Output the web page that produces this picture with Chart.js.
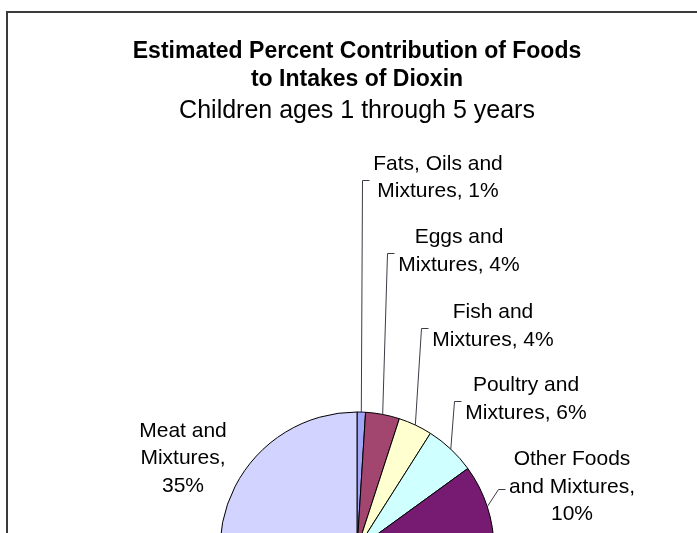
<!DOCTYPE html>
<html>
<head>
<meta charset="utf-8">
<script src="https://cdn.jsdelivr.net/npm/chart.js@4"></script>
<style>
  html, body { margin: 0; padding: 0; background: #fff; overflow: hidden; width: 697px; height: 533px; }
  #frame { position: absolute; left: 6px; top: 11px; width: 740px; height: 900px;
           border-top: 2px solid #3a3a3a; border-left: 2px solid #3a3a3a; }
  #chart { position: absolute; left: 0; top: 0; }
</style>
</head>
<body>
<div id="frame"><canvas id="chart" width="698" height="760"></canvas></div>
<script>
// slices, clockwise from 12 o'clock (the two lower ones are below the visible area)
const categories = ['Fats, Oils and Mixtures', 'Eggs and Mixtures', 'Fish and Mixtures',
  'Poultry and Mixtures', 'Other Foods and Mixtures', 'Milk and Mixtures', 'Vegetables and Mixtures',
  'Meat and Mixtures'];
const percents = [1, 4, 4, 6, 10, 28, 12, 35];
const colors = ['#a2a6f7', '#a2466f', '#ffffcf', '#cfffff', '#761a72', '#ff8080', '#0066cc', '#d3d3ff'];

// label wrapping, '#' is replaced by the percent
const labelWrap = [
  ['Fats, Oils and', 'Mixtures, #'],
  ['Eggs and', 'Mixtures, #'],
  ['Fish and', 'Mixtures, #'],
  ['Poultry and', 'Mixtures, #'],
  ['Other Foods', 'and Mixtures,', '#'],
  null,
  null,
  ['Meat and', 'Mixtures,', '#']
];

const titleLines = ['Estimated Percent Contribution of Foods', 'to Intakes of Dioxin'];
const subtitleText = 'Children ages 1 through 5 years';

// layout (page pixels) for the data labels: centre of the label box
const labelPos = [
  { x: 438, y: 177.5, leader: true },
  { x: 459, y: 251, leader: true },
  { x: 493, y: 326, leader: true },
  { x: 526, y: 399, leader: true },
  { x: 572, y: 487, leader: true },
  null,
  null,
  { x: 183, y: 458.5, leader: false }
];

const FONT = '"Liberation Sans", Arial, sans-serif';
const OFFX = 8, OFFY = 13;   // canvas origin on the page
const LABEL_SIZE = 21, LABEL_LH = 27.5;

function labelText(i) {
  const w = labelWrap[i];
  if (!w) return null;
  return w.map(t => t.replace('#', percents[i] + '%'));
}

const dataLabels = {
  id: 'dataLabels',
  afterDraw(chart) {
    const { ctx } = chart;
    const arcs = chart.getDatasetMeta(0).data;
    ctx.save();
    ctx.font = `${LABEL_SIZE}px ${FONT}`;
    ctx.fillStyle = '#000';
    ctx.textAlign = 'center';
    ctx.textBaseline = 'middle';
    ctx.strokeStyle = '#3c3c46';
    ctx.lineWidth = 1;
    arcs.forEach((arc, i) => {
      const lines = labelText(i);
      const pos = labelPos[i];
      if (!lines || !pos) return;
      const cx = pos.x - OFFX, cy = pos.y - OFFY;
      const n = lines.length;
      lines.forEach((t, k) => ctx.fillText(t, cx, cy + (k - (n - 1) / 2) * LABEL_LH));
      if (!pos.leader) return;
      const w = Math.max(...lines.map(t => ctx.measureText(t).width));
      const left = cx - w / 2;
      const p = arc.getProps(['x', 'y', 'startAngle', 'endAngle', 'outerRadius'], true);
      const mid = (p.startAngle + p.endAngle) / 2;
      const px = p.x + Math.cos(mid) * p.outerRadius;
      const py = p.y + Math.sin(mid) * p.outerRadius;
      const hy = Math.round(cy + 2) + 0.5;
      ctx.beginPath();
      ctx.moveTo(Math.round(left - 4) + 0.5, hy);
      ctx.lineTo(Math.round(left - 11) + 0.5, hy);
      ctx.lineTo(px, py);
      ctx.stroke();
    });
    ctx.restore();
  }
};

new Chart(document.getElementById('chart'), {
  type: 'pie',
  data: {
    labels: categories,
    datasets: [{
      data: percents,
      backgroundColor: colors,
      borderColor: '#000',
      borderWidth: 1
    }]
  },
  options: {
    responsive: false,
    animation: false,
    radius: 137,
    layout: { padding: { bottom: 87 } },
    plugins: {
      legend: { display: false },
      tooltip: { enabled: false },
      title: {
        display: true,
        text: titleLines,
        color: '#000',
        font: { family: FONT, size: 23, weight: 'bold', lineHeight: '28.5px' },
        padding: { top: 24.25, bottom: 0 }
      },
      subtitle: {
        display: true,
        text: subtitleText,
        color: '#000',
        font: { family: FONT, size: 25, weight: 'normal', lineHeight: '28px' },
        padding: { top: 2.75, bottom: 287 }
      }
    }
  },
  plugins: [dataLabels]
});
</script>
</body>
</html>
